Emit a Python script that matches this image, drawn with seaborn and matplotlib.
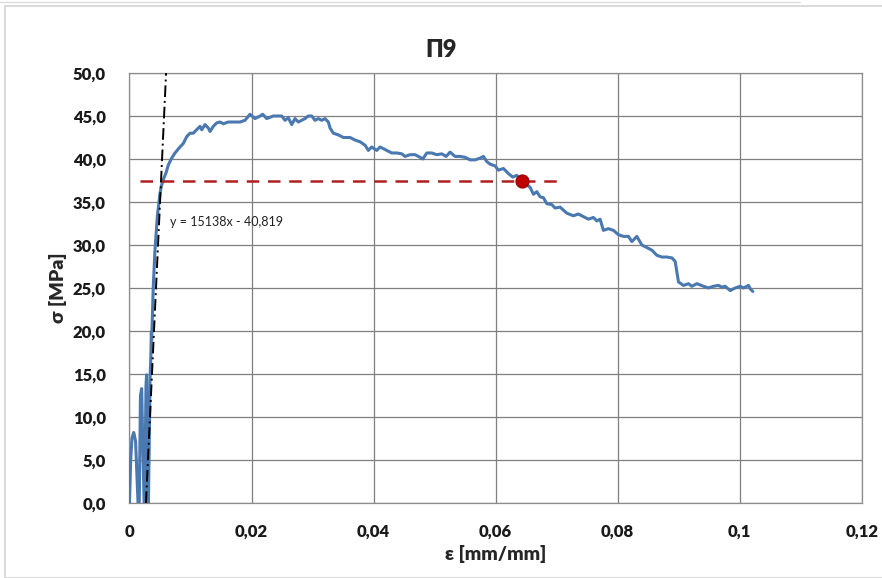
import matplotlib
matplotlib.use("Agg")
import matplotlib.pyplot as plt
import seaborn as sns
import pandas as pd
from matplotlib.patches import Rectangle
from matplotlib.lines import Line2D

# Stress–strain record of specimen П9
strain = [
    0.0000, 0.0002, 0.0004, 0.0007, 0.0010, 0.0012, 0.0014, 0.0016, 0.0018, 0.0020,
    0.0022, 0.0024, 0.0025, 0.0027, 0.0028, 0.0029, 0.0030, 0.0031, 0.0033, 0.00336,
    0.0035, 0.00358, 0.00364, 0.0039, 0.00418, 0.00456, 0.0050, 0.00525, 0.00554, 0.00600,
    0.00636, 0.00692, 0.00746, 0.00828, 0.00882, 0.00938, 0.00992, 0.01046, 0.01102, 0.01156,
    0.01184, 0.01238, 0.01292, 0.0132, 0.01374, 0.0143, 0.01484, 0.01538, 0.0162, 0.01702,
    0.01811, 0.01893, 0.01975, 0.02057, 0.0214, 0.02184, 0.02249, 0.02357, 0.02495, 0.02549,
    0.02603, 0.02659, 0.02713, 0.02767, 0.02823, 0.02877, 0.02931, 0.02987, 0.03041, 0.03095,
    0.03151, 0.03205, 0.03259, 0.03287, 0.03341, 0.03423, 0.03505, 0.03615, 0.03697, 0.03779,
    0.03861, 0.03915, 0.03970, 0.04052, 0.04107, 0.04216, 0.04298, 0.0438, 0.04462, 0.04516,
    0.04598, 0.0468, 0.04762, 0.04807, 0.04872, 0.04954, 0.05036, 0.05118, 0.05189, 0.05254,
    0.05336, 0.05418, 0.055, 0.05582, 0.05664, 0.05746, 0.058, 0.05856, 0.0591, 0.05992,
    0.06046, 0.06128, 0.0621, 0.06282, 0.06348, 0.0643, 0.06511, 0.06566, 0.0662, 0.06675,
    0.0673, 0.06784, 0.06839, 0.06921, 0.06975, 0.07057, 0.07167, 0.07275, 0.07357, 0.0744,
    0.07521, 0.07603, 0.07659, 0.07713, 0.07767, 0.07849, 0.07931, 0.08013, 0.08095, 0.08177,
    0.08233, 0.08315, 0.08397, 0.08479, 0.08561, 0.08643, 0.08725, 0.08807, 0.08889, 0.08943,
    0.08997, 0.09079, 0.09161, 0.09216, 0.09298, 0.09407, 0.09489, 0.0957, 0.09652, 0.09708,
    0.09762, 0.09844, 0.09926, 0.10008, 0.10062, 0.10144, 0.10184, 0.10216,
]
stress = [
    0.0, 5.0, 7.5, 8.2, 7.2, 3.5, 0.0, 0.0, 12.5, 13.3,
    6.0, 0.0, 0.0, 13.5, 14.9, 9.0, 2.0, 0.0, 10.0, 14.3,
    17.0, 19.8, 19.0, 25.2, 29.4, 33.3, 36.0, 36.9, 37.6, 38.4,
    39.3, 40.1, 40.7, 41.4, 41.8, 42.6, 43.0, 43.0, 43.4, 43.8,
    43.4, 44.0, 43.6, 43.2, 43.8, 44.2, 44.3, 44.1, 44.3, 44.3,
    44.3, 44.5, 45.2, 44.7, 45.0, 45.2, 44.7, 45.0, 45.0, 44.5,
    44.8, 44.0, 44.7, 44.3, 44.5, 44.7, 45.0, 45.0, 44.5, 44.7,
    44.5, 44.7, 44.3, 43.6, 43.0, 42.8, 42.5, 42.5, 42.2, 42.0,
    41.6, 41.0, 41.4, 41.0, 41.4, 41.0, 40.7, 40.7, 40.6, 40.3,
    40.5, 40.5, 40.2, 40.0, 40.7, 40.7, 40.5, 40.6, 40.3, 40.8,
    40.3, 40.3, 40.2, 39.9, 39.9, 40.1, 40.3, 39.7, 39.4, 39.2,
    38.7, 38.9, 38.3, 37.9, 38.1, 37.4, 37.0, 36.7, 35.9, 36.2,
    35.6, 35.5, 34.8, 34.7, 34.3, 34.4, 33.7, 33.4, 33.6, 33.3,
    33.0, 33.2, 32.8, 33.0, 31.7, 31.9, 31.7, 31.2, 31.0, 31.0,
    30.4, 31.0, 30.0, 29.7, 29.4, 28.8, 28.6, 28.6, 28.5, 28.1,
    25.7, 25.3, 25.5, 25.2, 25.5, 25.2, 25.0, 25.2, 25.3, 25.1,
    25.2, 24.7, 25.0, 25.2, 25.0, 25.3, 24.8, 24.6,
]

# Linear fit of the elastic part: y = 15138x - 40,819
slope = 15138
intercept = -40.819
fit_stress = [0.0, 50.0]

# Selected point and its stress level
point_strain = 0.0643
point_stress = 37.4
level_strain = [0.0017, 0.0703]

x_ticks = [0, 0.02, 0.04, 0.06, 0.08, 0.10, 0.12]
x_labels = ["0", "0,02", "0,04", "0,06", "0,08", "0,1", "0,12"]
y_ticks = [0, 5, 10, 15, 20, 25, 30, 35, 40, 45, 50]
y_labels = ["0,0", "5,0", "10,0", "15,0", "20,0", "25,0", "30,0", "35,0", "40,0", "45,0", "50,0"]

sns.set_theme(style="white")
plt.rcParams["font.family"] = ["Lato", "DejaVu Sans"]

fig = plt.figure(figsize=(8.82, 5.78), dpi=100)
fig.patch.set_facecolor("white")
ax = fig.add_axes([0.1468, 0.1298, 0.8302, 0.7439])

# Chart frame
fig.patches.append(Rectangle((5 / 882, 0.0), 1.0, 1 - 6 / 578, transform=fig.transFigure,
                             fill=False, edgecolor="#d4d4d4", linewidth=1.2))
fig.lines.append(Line2D([0, 800 / 882], [1 - 2 / 578, 1 - 2 / 578], transform=fig.transFigure,
                        color="#dddddd", linewidth=1.0))

df = pd.DataFrame({"strain": strain, "stress": stress})
sns.lineplot(data=df, x="strain", y="stress", sort=False, estimator=None,
             color="#4a78b0", linewidth=2.2, ax=ax, zorder=3)

fit_strain = [(s - intercept) / slope for s in fit_stress]
ax.plot(fit_strain, fit_stress, color="black", linestyle=(0, (6, 2, 1, 2)), linewidth=1.4, zorder=4)

ax.plot(level_strain, [point_stress, point_stress], color="#b01e1e", linestyle=(0, (5, 3.5)),
        linewidth=1.8, zorder=4)
ax.scatter([point_strain], [point_stress], s=85, color="#c00000", edgecolor="#a00000", zorder=5)

ax.text(0.0066, 32.7, "y = 15138x - 40,819", fontsize=9, va="center", ha="left",
        color="#222222")

ax.set_xlim(0, 0.12)
ax.set_ylim(0, 50)
ax.set_xticks(x_ticks)
ax.set_xticklabels(x_labels, fontsize=12, fontweight="heavy")
ax.set_yticks(y_ticks)
ax.set_yticklabels(y_labels, fontsize=12, fontweight="heavy")
ax.tick_params(axis="x", length=0, pad=15, colors="#1a1a1a")
ax.tick_params(axis="y", length=0, pad=17, colors="#1a1a1a")

ax.grid(True, color="#7f7f7f", linewidth=0.9)
for side in ax.spines.values():
    side.set_color("#8c8c8c")
    side.set_linewidth(0.9)

ax.set_xlabel("ε [mm/mm]", fontsize=14, fontweight="heavy", labelpad=4)
ax.set_ylabel("σ [MPa]", fontsize=14, fontweight="heavy", labelpad=4)
fig.text(441 / 882, 1 - 50 / 578, "П9", fontsize=17, fontweight="heavy",
         ha="center", va="center")

fig.savefig("out.png", dpi=100)
